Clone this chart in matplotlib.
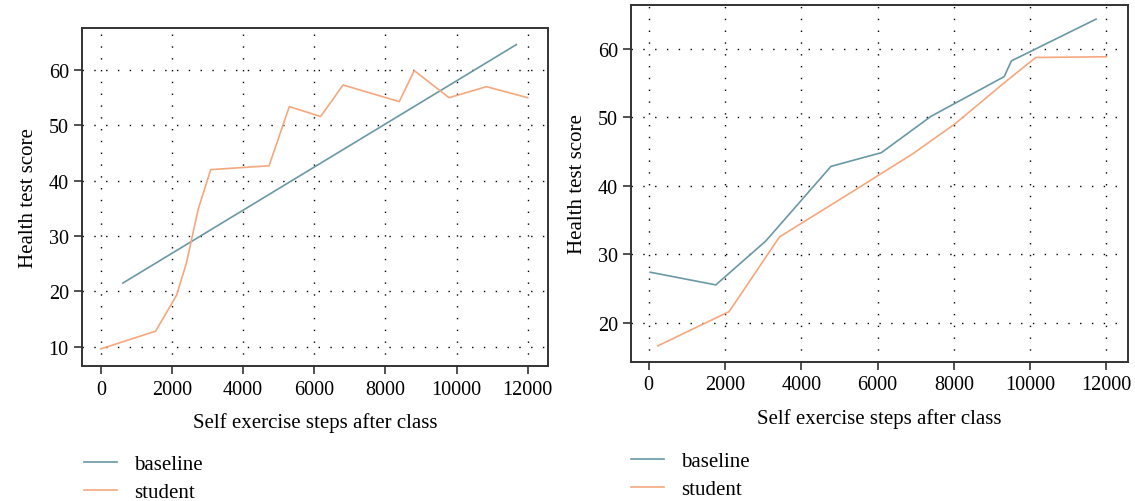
import matplotlib
matplotlib.use("Agg")
import matplotlib.pyplot as plt

# left panel
left_baseline_x = [620, 11680]
left_baseline_y = [21.5, 64.6]
left_student_x = [0, 1540, 2130, 2410, 2740, 3090, 4730, 5300, 6180, 6810,
                  8390, 8810, 9790, 10840, 12000]
left_student_y = [9.6, 12.8, 19.3, 25.2, 34.9, 42.0, 42.7, 53.4, 51.6, 57.3,
                  54.3, 59.9, 55.0, 57.0, 55.0]

# right panel
right_baseline_x = [40, 1760, 3070, 4780, 6100, 7400, 9320, 9510, 11730]
right_baseline_y = [27.35, 25.5, 31.9, 42.8, 44.8, 50.1, 55.9, 58.2, 64.3]
right_student_x = [240, 2110, 3430, 5540, 6940, 8030, 9300, 10150, 12000]
right_student_y = [16.6, 21.6, 32.5, 39.8, 44.7, 49.0, 54.9, 58.7, 58.8]

X_TICKS = [0, 2000, 4000, 6000, 8000, 10000, 12000]
BASE_COLOR = "#6a98a4"
STUDENT_COLOR = "#f5a87f"

plt.rcParams["font.family"] = ["Liberation Serif", "DejaVu Serif"]
plt.rcParams["font.size"] = 15

fig = plt.figure(figsize=(11.35, 5.02), dpi=100)
ax1 = fig.add_axes([0.0722, 0.2683, 0.4106, 0.6739])
ax2 = fig.add_axes([0.5562, 0.2763, 0.4374, 0.7123])


def style(ax, xlim, ylim, yticks):
    ax.set_xlim(*xlim)
    ax.set_ylim(*ylim)
    ax.set_xticks(X_TICKS)
    ax.set_yticks(yticks)
    ax.grid(True, color="black", linewidth=1.0, linestyle=(0, (1, 7.5)))
    ax.set_axisbelow(True)
    for s in ax.spines.values():
        s.set_linewidth(1.4)
        s.set_color("#333333")
    ax.tick_params(direction="out", length=5.5, width=1.2, color="#333333",
                   labelsize=14.5, pad=4)
    ax.set_xlabel("Self exercise steps after class", fontsize=15, labelpad=10)
    ax.set_ylabel("Health test score", fontsize=15, labelpad=8)


ax1.plot(left_baseline_x, left_baseline_y, color=BASE_COLOR, lw=1.2, label="baseline")
ax1.plot(left_student_x, left_student_y, color=STUDENT_COLOR, lw=1.2, label="student")
style(ax1, (-530, 12570), (6.45, 67.6), [10, 20, 30, 40, 50, 60])

ax2.plot(right_baseline_x, right_baseline_y, color=BASE_COLOR, lw=1.2, label="baseline")
ax2.plot(right_student_x, right_student_y, color=STUDENT_COLOR, lw=1.2, label="student")
style(ax2, (-455, 12560), (14.2, 66.4), [20, 30, 40, 50, 60])

for ax, x0, y0 in [(ax1, 0.074, 0.092), (ax2, 0.556, 0.098)]:
    ax.legend(loc="upper left", bbox_to_anchor=(x0, y0), bbox_transform=fig.transFigure,
              frameon=False, handlelength=1.6, handletextpad=0.8,
              labelspacing=0.38, fontsize=15, borderaxespad=0, borderpad=0)

fig.savefig("out.png", dpi=100)
